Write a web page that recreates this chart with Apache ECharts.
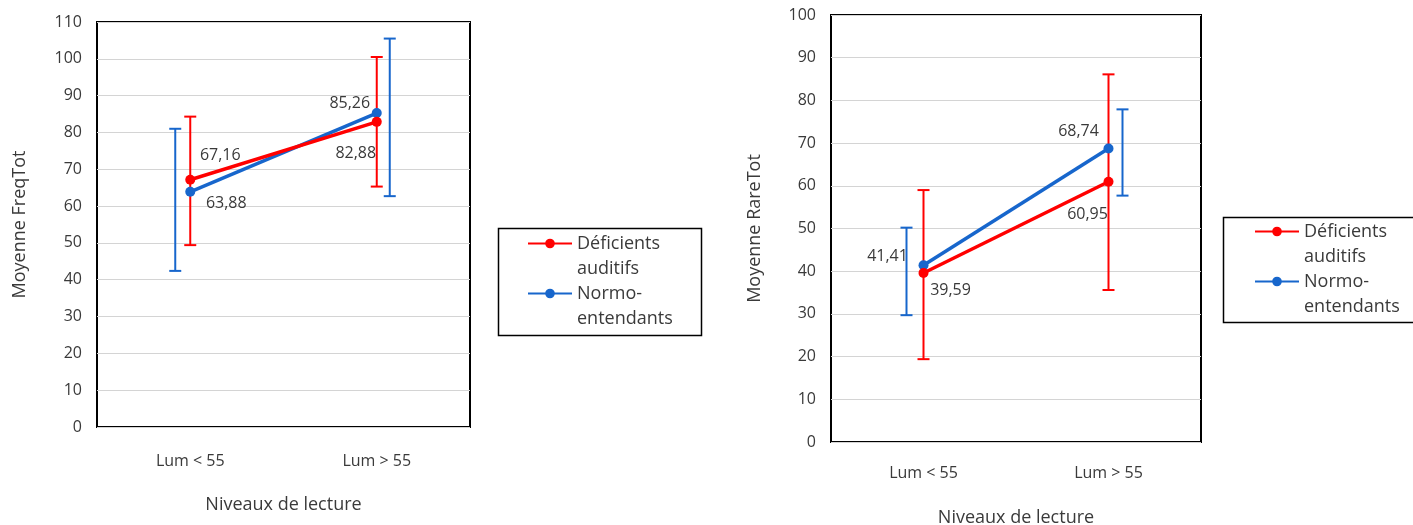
<!DOCTYPE html>
<html>
<head>
<meta charset="utf-8">
<script src="https://cdn.jsdelivr.net/npm/echarts@6/dist/echarts.min.js"></script>
<style>
  html, body { margin: 0; padding: 0; background: #ffffff; }
  #chart { width: 1413px; height: 525px; }
</style>
</head>
<body>
<div id="chart"></div>
<script>
// Reading levels (x categories)
const categories = ['Lum < 55', 'Lum > 55'];

// Group names
const groupDA = 'Déficients auditifs';
const groupNE = 'Normo-entendants';

// FreqTot means
const freqDA = [67.16, 82.88];
const freqNE = [63.88, 85.26];
// FreqTot error bar ends [low, high]
const freqDALow = [49.4, 65.3];
const freqDAHigh = [84.3, 100.5];
const freqNELow = [42.4, 62.7];
const freqNEHigh = [81.0, 105.5];

// RareTot means
const rareDA = [39.59, 60.95];
const rareNE = [41.41, 68.74];
// RareTot error bar ends [low, high]
const rareDALow = [19.4, 35.6];
const rareDAHigh = [59.0, 86.1];
const rareNELow = [29.7, 57.7];
const rareNEHigh = [50.2, 77.9];

// Y-axis tick settings
const freqMax = 110;
const rareMax = 100;
const tickStep = 10;

const RED = '#ff0000';
const BLUE = '#1766cc';
const TEXT = '#3a3a3a';
const FONT = '"Open Sans", "DejaVu Sans", sans-serif';

const fmt = v => v.toFixed(2).replace('.', ',');

// Label placement per point (pixel offsets of the label centre from the marker)
const freqDALabelOffsets = [[30, -24], [-21, 32]];
const freqNELabelOffsets = [[36, 12], [-27, -10]];
const rareDALabelOffsets = [[27, 17], [-21, 33]];
const rareNELabelOffsets = [[-36, -9], [-30, -17]];

// Horizontal shift of each error bar from its category centre (px)
const freqDABarShift = [0, 0];
const freqNEBarShift = [-15, 13];
const rareDABarShift = [0, 0];
const rareNEBarShift = [-17, 14];

function lineSeries(name, color, values, offsets, axisIndex, z) {
  return {
    name: name,
    type: 'line',
    xAxisIndex: axisIndex,
    yAxisIndex: axisIndex,
    z: z,
    symbol: 'circle',
    symbolSize: 10,
    itemStyle: { color: color },
    lineStyle: { color: color, width: 3.5 },
    emphasis: { disabled: true },
    data: values.map((v, i) => ({
      value: v,
      label: {
        show: true,
        position: 'inside',
        offset: offsets[i],
        formatter: p => fmt(p.value),
        color: TEXT,
        fontFamily: FONT,
        fontSize: 16
      }
    }))
  };
}

function errorSeries(name, color, lows, highs, shifts, axisIndex, z) {
  return {
    name: name,
    type: 'custom',
    xAxisIndex: axisIndex,
    yAxisIndex: axisIndex,
    z: z,
    silent: true,
    data: lows.map((lo, i) => [i, lo, highs[i], shifts[i]]),
    encode: { x: 0, y: [1, 2] },
    renderItem: function (params, api) {
      const idx = api.value(0);
      const shift = api.value(3);
      const lo = api.coord([idx, api.value(1)]);
      const hi = api.coord([idx, api.value(2)]);
      const x = lo[0] + shift;
      const half = 6;
      const style = { stroke: color, lineWidth: 2 };
      return {
        type: 'group',
        children: [
          { type: 'line', shape: { x1: x, y1: hi[1], x2: x, y2: lo[1] }, style: style },
          { type: 'line', shape: { x1: x - half, y1: hi[1], x2: x + half, y2: hi[1] }, style: style },
          { type: 'line', shape: { x1: x - half, y1: lo[1], x2: x + half, y2: lo[1] }, style: style }
        ]
      };
    }
  };
}

// Legend entries wrap onto two lines; the leading empty line keeps the
// marker level with the first line of text.
const legendText = {};
legendText[groupDA] = '\nDéficients\nauditifs';
legendText[groupNE] = '\nNormo-\nentendants';

function legendAt(left, top) {
  return {
    data: [groupDA, groupNE],
    orient: 'vertical',
    left: left,
    top: top,
    padding: 0,
    itemWidth: 44,
    itemHeight: 12,
    itemGap: -25,
    selectedMode: false,
    formatter: name => legendText[name],
    textStyle: {
      color: TEXT,
      fontFamily: FONT,
      fontSize: 18,
      lineHeight: 25
    }
  };
}

function valueAxis(gridIndex, max, name, nameGap) {
  return {
    type: 'value',
    gridIndex: gridIndex,
    min: 0,
    max: max,
    interval: tickStep,
    name: name,
    nameLocation: 'middle',
    nameGap: nameGap,
    nameTextStyle: { color: TEXT, fontFamily: FONT, fontSize: 18 },
    axisLine: { show: false },
    axisTick: { show: false },
    axisLabel: { color: TEXT, fontFamily: FONT, fontSize: 16, margin: 15 },
    splitLine: { lineStyle: { color: '#d4d4d4', width: 1 } }
  };
}

function categoryAxis(gridIndex, nameGap, labelMargin) {
  return {
    type: 'category',
    gridIndex: gridIndex,
    data: categories,
    boundaryGap: true,
    name: 'Niveaux de lecture',
    nameLocation: 'middle',
    nameGap: nameGap,
    nameTextStyle: { color: TEXT, fontFamily: FONT, fontSize: 18 },
    axisLine: { show: false },
    axisTick: { show: false },
    axisLabel: { color: TEXT, fontFamily: FONT, fontSize: 16, margin: labelMargin },
    splitLine: { show: false }
  };
}

const chart = echarts.init(document.getElementById('chart'), null, { renderer: 'canvas' });

chart.setOption({
  backgroundColor: '#ffffff',
  animation: false,
  grid: [
    { left: 97, top: 22, width: 373, height: 405, show: true, borderColor: '#000000', borderWidth: 2, backgroundColor: '#ffffff', outerBoundsMode: 'none', containLabel: false },
    { left: 831, top: 15, width: 370, height: 427, show: true, borderColor: '#000000', borderWidth: 2, backgroundColor: '#ffffff', outerBoundsMode: 'none', containLabel: false }
  ],
  xAxis: [
    categoryAxis(0, 69, 26),
    categoryAxis(1, 67, 23)
  ],
  yAxis: [
    valueAxis(0, freqMax, 'Moyenne FreqTot', 68),
    valueAxis(1, rareMax, 'Moyenne RareTot', 67)
  ],
  legend: [
    legendAt(527, 206),
    legendAt(1254, 194)
  ],
  graphic: [
    { type: 'rect', left: 496, top: 226, shape: { width: 203, height: 107 }, style: { fill: 'none', stroke: '#000000', lineWidth: 1.5 }, z: 100 },
    { type: 'rect', left: 1221, top: 215, shape: { width: 191, height: 105 }, style: { fill: 'none', stroke: '#000000', lineWidth: 1.5 }, z: 100 }
  ],
  series: [
    errorSeries('FreqTot ' + groupNE + ' (écart)', BLUE, freqNELow, freqNEHigh, freqNEBarShift, 0, 2),
    errorSeries('FreqTot ' + groupDA + ' (écart)', RED, freqDALow, freqDAHigh, freqDABarShift, 0, 2),
    lineSeries(groupNE, BLUE, freqNE, freqNELabelOffsets, 0, 3),
    lineSeries(groupDA, RED, freqDA, freqDALabelOffsets, 0, 4),
    errorSeries('RareTot ' + groupNE + ' (écart)', BLUE, rareNELow, rareNEHigh, rareNEBarShift, 1, 2),
    errorSeries('RareTot ' + groupDA + ' (écart)', RED, rareDALow, rareDAHigh, rareDABarShift, 1, 2),
    lineSeries(groupNE, BLUE, rareNE, rareNELabelOffsets, 1, 3),
    lineSeries(groupDA, RED, rareDA, rareDALabelOffsets, 1, 4)
  ]
});
</script>
</body>
</html>
